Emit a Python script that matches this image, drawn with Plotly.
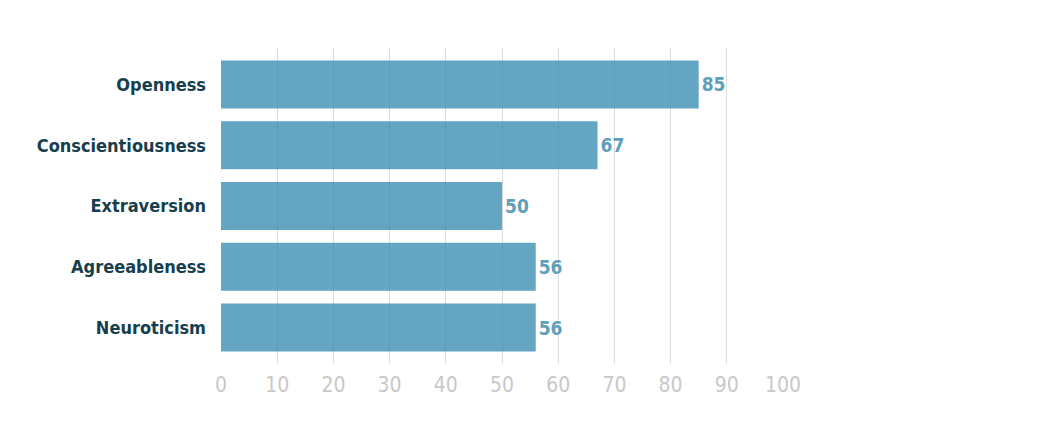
import plotly.graph_objects as go

# Data
traits = ["Openness", "Conscientiousness", "Extraversion", "Agreeableness", "Neuroticism"]
scores = [85, 67, 50, 56, 56]
tick_vals = [0, 10, 20, 30, 40, 50, 60, 70, 80, 90, 100]

# semi-transparent bars so the grid shows through, as in the original
bar_color = "#3D90B3"
label_color = "#163E4C"

fig = go.Figure()

fig.add_trace(go.Bar(
    x=scores,
    y=traits,
    orientation="h",
    marker=dict(color=bar_color, opacity=0.8, line=dict(width=0)),
    width=0.79,
    text=[str(s) for s in scores],
    textposition="outside",
    textfont=dict(family="DejaVu Sans Condensed", size=19, color="#5E9FBB", weight="bold"),
    cliponaxis=False,
    showlegend=False,
))

fig.update_layout(
    width=1048,
    height=447,
    margin=dict(l=213, r=273, t=40, b=91),
    plot_bgcolor="white",
    paper_bgcolor="white",
    xaxis=dict(
        range=[0, 100],
        tickvals=tick_vals,
        showgrid=True,
        gridcolor="#DCDCDC",
        gridwidth=1,
        zeroline=False,
        tickfont=dict(family="DejaVu Sans Condensed", size=21, color="#C8C8C8"),
        ticks="",
        ticklabelstandoff=6,
    ),
    yaxis=dict(
        categoryorder="array",
        categoryarray=traits[::-1],
        range=[-0.6, 4.6],
        showgrid=False,
        zeroline=False,
        ticks="",
        ticklabelstandoff=14,
        tickfont=dict(family="DejaVu Sans Condensed", size=18, color=label_color, weight="bold"),
    ),
)

fig.write_html("out.html")
